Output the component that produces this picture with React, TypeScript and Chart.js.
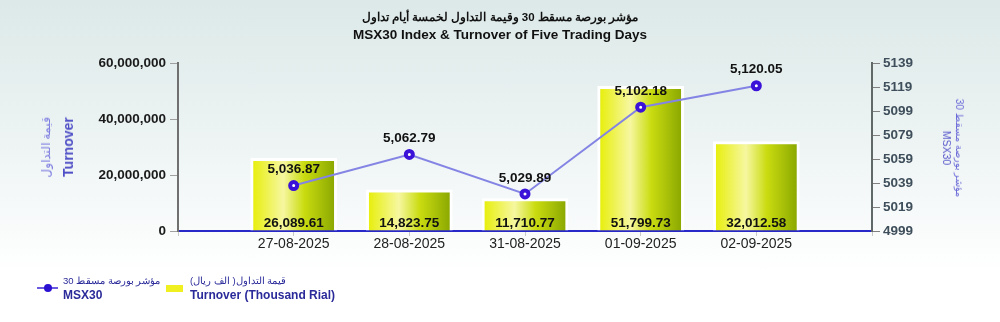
import React, { useEffect, useRef } from "react";
import { Chart, registerables } from "chart.js";

Chart.register(...registerables);

const categories = ["", "27-08-2025", "28-08-2025", "31-08-2025", "01-09-2025", "02-09-2025", ""];
const turnoverThousand = [null, 26089.61, 14823.75, 11710.77, 51799.73, 32012.58, null];
const msx30Index = [null, 5036.87, 5062.79, 5029.89, 5102.18, 5120.05, null];
const leftTicks = { min: 0, max: 60000, step: 20000 };
const rightTicks = { min: 4999, max: 5139, step: 20 };

const FONT = '"Liberation Sans", Arial, sans-serif';

const fmt2 = (v: number) =>
  v.toLocaleString("en-US", { minimumFractionDigits: 2, maximumFractionDigits: 2 });

const labelPlugin = {
  id: "valueLabels",
  afterDatasetsDraw(chart: any) {
    const ctx = chart.ctx;
    ctx.save();
    ctx.fillStyle = "#111";
    ctx.font = `bold 13.5px ${FONT}`;
    ctx.textAlign = "center";
    ctx.textBaseline = "middle";
    const barMeta = chart.getDatasetMeta(1);
    barMeta.data.forEach((el: any, i: number) => {
      const v = turnoverThousand[i];
      if (v == null) return;
      ctx.fillText(fmt2(v), el.x, el.base - 7);
    });
    const lineMeta = chart.getDatasetMeta(0);
    lineMeta.data.forEach((el: any, i: number) => {
      const v = msx30Index[i];
      if (v == null) return;
      ctx.fillText(fmt2(v), el.x, el.y - 16);
    });
    ctx.restore();
  },
};

export default function App() {
  const ref = useRef<HTMLCanvasElement>(null);
  useEffect(() => {
    document.body.style.margin = "0";
    const canvas = ref.current!;
    const chart = new Chart(canvas, {
      type: "bar",
      data: {
        labels: categories,
        datasets: [
          {
            type: "line",
            label: "MSX30",
            data: msx30Index as any,
            yAxisID: "y1",
            borderColor: "#8484e4",
            borderWidth: 2,
            pointRadius: 3.5,
            pointBorderWidth: 4,
            pointBorderColor: "#3a12d8",
            pointBackgroundColor: "#ffffff",
            order: 0,
          } as any,
          {
            type: "bar",
            label: "Turnover",
            data: turnoverThousand as any,
            yAxisID: "y",
            categoryPercentage: 1,
            barPercentage: 0.75,
            borderColor: "#ffffff",
            borderWidth: { top: 3, left: 3, right: 3, bottom: 0 },
            borderSkipped: false,
            backgroundColor: (c: any) => {
              const ch = c.chart;
              const xs = ch.scales?.x;
              if (!xs || !ch.chartArea) return "#d8e000";
              const cx = xs.getPixelForValue(c.dataIndex);
              const w = (xs.getPixelForValue(1) - xs.getPixelForValue(0)) * 0.75;
              const g = ch.ctx.createLinearGradient(cx - w / 2, 0, cx + w / 2, 0);
              g.addColorStop(0, "#e6ee00");
              g.addColorStop(0.38, "#f6f7a0");
              g.addColorStop(0.62, "#cadc10");
              g.addColorStop(1, "#86a400");
              return g;
            },
            order: 1,
          } as any,
        ],
      },
      options: {
        animation: false,
        responsive: false,
        maintainAspectRatio: false,
        layout: { padding: { top: 63, left: 0, right: 0, bottom: 0 } },
        plugins: {
          legend: { display: false },
          title: { display: false },
          tooltip: { enabled: false },
        },
        scales: {
          x: {
            offset: false,
            afterFit: (s: any) => {
              s.height = 91;
            },
            grid: {
              display: true,
              offset: false,
              drawOnChartArea: false,
              drawTicks: true,
              tickLength: 5,
              color: "#c8c8c8",
            },
            border: { display: true, color: "#2828c8", width: 2 },
            ticks: {
              color: "#222",
              font: { family: FONT, size: 14 },
              padding: 0,
              maxRotation: 0,
              autoSkip: false,
            },
          },
          y: {
            position: "left",
            min: leftTicks.min,
            max: leftTicks.max,
            afterFit: (s: any) => {
              s.width = 178;
            },
            grid: {
              drawOnChartArea: false,
              drawTicks: true,
              tickLength: 8,
              color: "#a0a0a0",
            },
            border: { display: true, color: "#707070", width: 2 },
            ticks: {
              stepSize: leftTicks.step,
              color: "#1a1a1a",
              font: { family: FONT, size: 13.5, weight: "bold" },
              padding: 4,
              callback: (v: any) => (Number(v) * 1000).toLocaleString("en-US"),
            },
          },
          y1: {
            position: "right",
            min: rightTicks.min,
            max: rightTicks.max,
            afterFit: (s: any) => {
              s.width = 128;
            },
            grid: {
              drawOnChartArea: false,
              drawTicks: true,
              tickLength: 8,
              color: "#808080",
            },
            border: { display: true, color: "#606868", width: 2 },
            ticks: {
              stepSize: rightTicks.step,
              color: "#3e4e5a",
              font: { family: FONT, size: 13.5, weight: "bold" },
              padding: 3,
              callback: (v: any) => String(v),
            },
          },
        } as any,
      },
      plugins: [labelPlugin],
    } as any);
    return () => chart.destroy();
  }, []);

  return (
    <div
      style={{
        position: "relative",
        width: 1000,
        height: 322,
        overflow: "hidden",
        background: "linear-gradient(to bottom, #dce9e8 0%, #eef4f4 45%, #ffffff 85%)",
        fontFamily: FONT,
      }}
    >
      <canvas ref={ref} width={1000} height={322} style={{ position: "absolute", left: 0, top: 0 }} />
      <div
        style={{
          position: "absolute",
          left: 0,
          top: 8,
          width: 1000,
          textAlign: "center",
          fontWeight: "bold",
          color: "#111",
        }}
      >
        <div dir="rtl" style={{ fontSize: 11.5, lineHeight: "18px" }}>
          مؤشر بورصة مسقط 30 وقيمة التداول لخمسة أيام تداول
        </div>
        <div style={{ fontSize: 13.5, lineHeight: "18px" }}>MSX30 Index &amp; Turnover of Five Trading Days</div>
      </div>
      {/* left axis title */}
      <div
        style={{
          position: "absolute",
          left: 57,
          top: 147,
          transform: "translate(-50%, -50%) rotate(-90deg)",
          textAlign: "center",
          whiteSpace: "nowrap",
          lineHeight: "22px",
        }}
      >
        <div dir="rtl" style={{ color: "#7a7ae0", fontSize: 12 }}>قيمة التداول</div>
        <div style={{ color: "#4f4fc6", fontSize: 14, fontWeight: "bold" }}>Turnover</div>
      </div>
      {/* right axis title */}
      <div
        style={{
          position: "absolute",
          left: 953,
          top: 148,
          transform: "translate(-50%, -50%) rotate(90deg)",
          textAlign: "center",
          whiteSpace: "nowrap",
          lineHeight: "13px",
        }}
      >
        <div dir="rtl" style={{ color: "#6a6ad8", fontSize: 10 }}>مؤشر بورصة مسقط 30</div>
        <div style={{ color: "#5656cc", fontSize: 10.5 }}>MSX30</div>
      </div>
      {/* legend */}
      <div style={{ position: "absolute", left: 37, top: 274, display: "flex", alignItems: "center" }}>
        <div style={{ position: "relative", width: 21, height: 10, marginRight: 5 }}>
          <div style={{ position: "absolute", left: 0, top: 4, width: 21, height: 2, background: "#6a5ae0" }} />
          <div
            style={{
              position: "absolute",
              left: 7,
              top: 1,
              width: 8,
              height: 8,
              borderRadius: "50%",
              background: "#2a10d0",
            }}
          />
        </div>
        <div style={{ color: "#2a2a9a", lineHeight: "14px" }}>
          <div dir="rtl" style={{ fontSize: 9.5, textAlign: "left" }}>مؤشر بورصة مسقط 30</div>
          <div style={{ fontSize: 12, fontWeight: "bold" }}>MSX30</div>
        </div>
      </div>
      <div style={{ position: "absolute", left: 166, top: 274, display: "flex", alignItems: "center" }}>
        <div style={{ width: 17, height: 7, background: "#f0f020", marginRight: 7 }} />
        <div style={{ color: "#2a2a9a", lineHeight: "14px" }}>
          <div dir="rtl" style={{ fontSize: 9.5, textAlign: "left" }}>قيمة التداول( الف ريال)</div>
          <div style={{ fontSize: 12, fontWeight: "bold" }}>Turnover (Thousand Rial)</div>
        </div>
      </div>
    </div>
  );
}
